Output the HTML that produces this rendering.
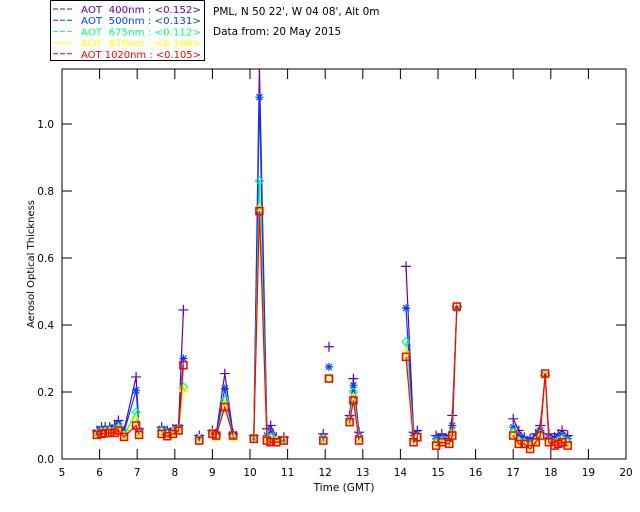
<!DOCTYPE html>
<html><head><meta charset="utf-8"><style>
body{margin:0;background:#fff;}
svg{display:block;font-family:"DejaVu Sans","Liberation Sans",sans-serif;}
</style></head><body>
<svg id="c" width="640" height="512"></svg>
<script>
const times=[5.93,6.05,6.15,6.27,6.4,6.5,6.65,6.97,7.05,null,7.65,7.8,7.95,8.1,8.23,null,8.65,null,9.0,9.1,9.33,9.55,null,10.1,10.25,10.45,10.55,10.7,10.9,null,11.95,null,12.1,null,12.65,12.75,12.9,null,14.15,14.35,14.45,null,14.95,15.1,15.3,15.38,15.5,null,17.0,17.15,17.3,17.45,17.6,17.72,17.85,17.95,18.1,18.2,18.3,18.45];
const aot400=[.085,.095,.095,.095,.1,.115,.085,.245,.09,null,.095,.085,.09,.1,.445,null,.07,null,.085,.075,.255,.075,null,.07,1.17,.09,.1,.065,.065,null,.075,null,.335,null,.13,.24,.08,null,.575,.08,.085,null,.07,.075,.07,.13,.455,null,.12,.085,.065,.06,.075,.1,.25,.075,.065,.075,.085,.07];
const aot500=[.08,.09,.09,.09,.095,.105,.08,.205,.085,null,.09,.08,.085,.095,.30,null,.065,null,.08,.07,.21,.07,null,.065,1.08,.07,.08,.06,.06,null,.065,null,.275,null,.12,.22,.07,null,.45,.07,.075,null,.06,.065,.06,.1,.45,null,.095,.07,.06,.05,.065,.085,.25,.065,.055,.065,.07,.06];
const aot675=[.077,.082,.083,.084,.087,.095,.072,.14,.078,null,.082,.074,.08,.09,.215,null,.06,null,.077,.067,.175,.066,null,.06,.83,.06,.065,.055,.055,null,.06,null,.24,null,.115,.2,.06,null,.35,.06,.065,null,.05,.055,.05,.08,.45,null,.08,.055,.05,.04,.055,.075,.25,.055,.045,.055,.06,.05];
const aot870=[.075,.078,.08,.081,.082,.09,.069,.12,.075,null,.08,.07,.078,.085,.21,null,.06,null,.075,.065,.165,.065,null,.06,.75,.06,.06,.055,.055,null,.058,null,.24,null,.11,.185,.06,null,.32,.06,.065,null,.045,.05,.045,.075,.455,null,.075,.05,.045,.035,.05,.07,.25,.05,.045,.05,.055,.045];
const aot1020=[.072,.075,.077,.078,.078,.085,.066,.10,.072,null,.075,.068,.075,.085,.28,null,.055,null,.075,.07,.155,.07,null,.06,.74,.055,.05,.05,.055,null,.055,null,.24,null,.11,.175,.055,null,.305,.05,.065,null,.04,.05,.045,.07,.455,null,.07,.045,.045,.03,.05,.07,.255,.05,.04,.045,.05,.04];
const xTicks=[5,6,7,8,9,10,11,12,13,14,15,16,17,18,19,20];
const yTicks=[0,0.2,0.4,0.6,0.8,1.0];
const yLabels=["0.0","0.2","0.4","0.6","0.8","1.0"];
const legendLabels=["AOT  400nm : <0.152>","AOT  500nm : <0.131>","AOT  675nm : <0.112>","AOT  870nm : <0.106>","AOT 1020nm : <0.105>"];

const L=62,R=626,T=69,B=459;
const X=t=>L+(t-5)*(R-L)/15;
const Y=v=>B-v*335;
const svg=document.getElementById('c');
const NS='http://www.w3.org/2000/svg';
function mk(tag,attrs,parent){const e=document.createElementNS(NS,tag);for(const k in attrs)e.setAttribute(k,attrs[k]);(parent||svg).appendChild(e);return e;}
const clip=mk('clipPath',{id:'pc'});mk('rect',{x:L,y:T,width:R-L,height:B-T},clip);
const frame=mk('rect',{x:L,y:T,width:R-L,height:B-T,fill:'none',stroke:'#000','stroke-width':1});


xTicks.forEach(t=>{
  const a=mk('line',{x1:X(t),x2:X(t),y1:B,y2:B-10,stroke:'#000'});
  
  
  mk('line',{x1:X(t),x2:X(t),y1:T,y2:T+10,stroke:'#000'});
  const tx=mk('text',{x:X(t),y:B+17,'font-size':10.5,'text-anchor':'middle'});tx.textContent=t;
  
  
});
yTicks.forEach((v,i)=>{
  const a=mk('line',{x1:L,x2:L+10,y1:Y(v),y2:Y(v),stroke:'#000'});
  
  
  mk('line',{x1:R,x2:R-10,y1:Y(v),y2:Y(v),stroke:'#000'});
  const tx=mk('text',{x:L-8,y:Y(v)+4,'font-size':10.5,'text-anchor':'end'});tx.textContent=yLabels[i];
  
  
});
const xt=mk('text',{x:344,y:491,'font-size':10.5,'text-anchor':'middle'});xt.textContent='Time (GMT)';


const yt=mk('text',{x:34,y:264,'font-size':10,'text-anchor':'middle',transform:'rotate(-90 34 264)'});yt.textContent='Aerosol Optical Thickness';



const series=[[aot400,'#6000b0','plus'],[aot500,'#0040ff','star'],[aot675,'#00ff80','diamond'],[aot870,'#ffff00','tri'],[aot1020,'#ff0000','square']];
series.forEach(([vals,col,mkr],si)=>{
  const g=mk('g',{'clip-path':'url(#pc)'});
  
  
  let d='',pen=false;
  times.forEach((t,i)=>{const v=vals[i];if(t===null||v===null){pen=false;return;}d+=(pen?'L':'M')+X(t).toFixed(1)+' '+Y(v).toFixed(1);pen=true;});
  mk('path',{d:d,fill:'none',stroke:col,'stroke-width':1.2},g);
  times.forEach((t,i)=>{const v=vals[i];if(t===null||v===null)return;const x=X(t),y=Y(v);let m;
    if(mkr==='plus')m=mk('path',{d:`M${x-5} ${y}h10M${x} ${y-5}v10`,stroke:col,'stroke-width':1.2},g);
    else if(mkr==='star')m=mk('path',{d:`M${x-4} ${y}h8M${x} ${y-4}v8M${x-3} ${y-3}l6 6M${x-3} ${y+3}l6 -6`,stroke:col,'stroke-width':1.2},g);
    else if(mkr==='diamond')m=mk('path',{d:`M${x} ${y-4}l4 4l-4 4l-4 -4z`,stroke:col,fill:'none','stroke-width':1.2},g);
    else if(mkr==='tri')m=mk('path',{d:`M${x} ${y-4}l4 7h-8z`,stroke:col,fill:'none','stroke-width':1.2},g);
    else m=mk('rect',{x:x-3.5,y:y-3.5,width:7,height:7,stroke:col,fill:'none','stroke-width':1.5},g);
    
    
  });
});
const lg=mk('g',{});


mk('rect',{x:50.5,y:0.5,width:154,height:60,fill:'#fff',stroke:'#000'},lg);
series.forEach(([v,col],i)=>{
  const y=9+i*11.2;
  mk('line',{x1:53,x2:74,y1:y,y2:y,stroke:col,'stroke-dasharray':'5 2'},lg);
  const tx=mk('text',{x:81,y:y+4,'font-size':10,fill:col,textLength:120,lengthAdjust:'spacingAndGlyphs'},lg);tx.textContent=legendLabels[i];
  tx.setAttribute('style','white-space:pre');
  
  
});
const t1=mk('text',{x:213,y:15,'font-size':10.5});t1.textContent="PML, N 50 22', W 04 08', Alt 0m";


const t2=mk('text',{x:213,y:35,'font-size':10.5});t2.textContent="Data from: 20 May 2015";


</script>
</body></html>
